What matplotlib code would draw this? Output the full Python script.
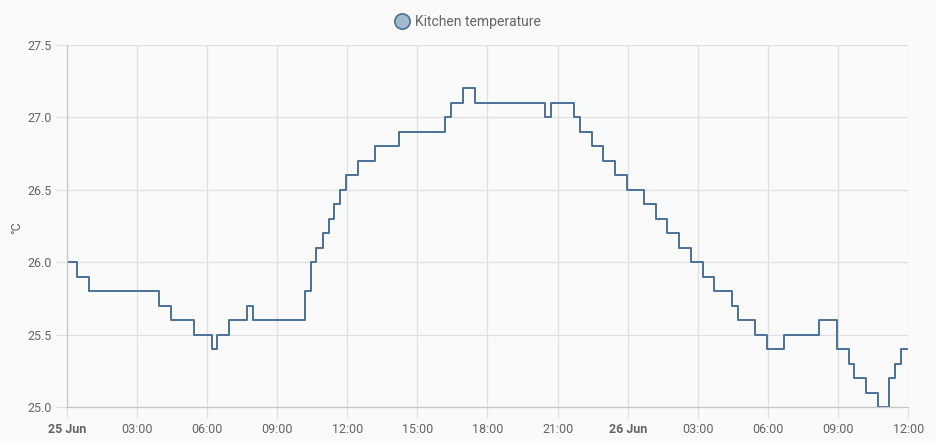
import matplotlib
matplotlib.use("Agg")
import matplotlib.pyplot as plt
import matplotlib.dates as mdates
from matplotlib.lines import Line2D
import pandas as pd

plt.rcParams['font.family'] = ['Roboto', 'DejaVu Sans']

series_name = "Kitchen temperature"
unit = "°C"
times = [
    "2024-06-25 00:00", "2024-06-25 00:27", "2024-06-25 00:57", "2024-06-25 03:57",
    "2024-06-25 04:27", "2024-06-25 05:27", "2024-06-25 06:12", "2024-06-25 06:27",
    "2024-06-25 06:56", "2024-06-25 07:42", "2024-06-25 07:57", "2024-06-25 10:12",
    "2024-06-25 10:27", "2024-06-25 10:41", "2024-06-25 10:57", "2024-06-25 11:12",
    "2024-06-25 11:27", "2024-06-25 11:42", "2024-06-25 11:57", "2024-06-25 12:27",
    "2024-06-25 13:12", "2024-06-25 14:12", "2024-06-25 16:11", "2024-06-25 16:27",
    "2024-06-25 16:57", "2024-06-25 17:27", "2024-06-25 20:28", "2024-06-25 20:42",
    "2024-06-25 21:42", "2024-06-25 21:57", "2024-06-25 22:27", "2024-06-25 22:57",
    "2024-06-25 23:27", "2024-06-25 23:57", "2024-06-26 00:41", "2024-06-26 01:12",
    "2024-06-26 01:41", "2024-06-26 02:11", "2024-06-26 02:42", "2024-06-26 03:12",
    "2024-06-26 03:42", "2024-06-26 04:27", "2024-06-26 04:42", "2024-06-26 05:27",
    "2024-06-26 05:57", "2024-06-26 06:42", "2024-06-26 08:12", "2024-06-26 08:57",
    "2024-06-26 09:27", "2024-06-26 09:41", "2024-06-26 10:11", "2024-06-26 10:42",
    "2024-06-26 11:11", "2024-06-26 11:27", "2024-06-26 11:42", "2024-06-26 12:00",
]
values = [
    26.0, 25.9, 25.8, 25.7, 25.6, 25.5, 25.4, 25.5,
    25.6, 25.7, 25.6, 25.8, 26.0, 26.1, 26.2, 26.3,
    26.4, 26.5, 26.6, 26.7, 26.8, 26.9, 27.0, 27.1,
    27.2, 27.1, 27.0, 27.1, 27.0, 26.9, 26.8, 26.7,
    26.6, 26.5, 26.4, 26.3, 26.2, 26.1, 26.0, 25.9,
    25.8, 25.7, 25.6, 25.5, 25.4, 25.5, 25.6, 25.4,
    25.3, 25.2, 25.1, 25.0, 25.2, 25.3, 25.4, 25.4,
]
x_start = "2024-06-25 00:00"
x_end = "2024-06-26 12:00"
y_ticks = [25.0, 25.5, 26.0, 26.5, 27.0, 27.5]

line_color = "#4a7197"
bg = "#fafafa"
text_color = "#646464"
grid_color = "#e0e0e0"
axis_color = "#c8c8c8"

W, H = 936, 441
fig = plt.figure(figsize=(W / 100, H / 100), dpi=100, facecolor=bg)
left, right, top, bottom = 66.7, 908.3, 45, 407.3
ax = fig.add_axes([left / W, 1 - bottom / H, (right - left) / W, (bottom - top) / H])
ax.set_facecolor(bg)

t = pd.to_datetime(times)
ax.plot(t, values, drawstyle="steps-post", color=line_color, lw=1.4)

ax.set_xlim(pd.Timestamp(x_start), pd.Timestamp(x_end))
ax.set_ylim(y_ticks[0], y_ticks[-1])
ax.set_yticks(y_ticks)
ax.set_yticklabels([f"{v:.1f}" for v in y_ticks])

ax.xaxis.set_major_locator(mdates.HourLocator(byhour=[0, 3, 6, 9, 12, 15, 18, 21]))
def fmt(x, pos=None):
    d = mdates.num2date(x)
    if d.hour == 0 and d.minute == 0:
        return d.strftime("%-d %b")
    return d.strftime("%H:%M")
ax.xaxis.set_major_formatter(plt.FuncFormatter(fmt))

ax.grid(True, color=grid_color, lw=0.9)
ax.set_axisbelow(True)
for s in ["top", "right"]:
    ax.spines[s].set_visible(False)
for s in ["left", "bottom"]:
    ax.spines[s].set_color(axis_color)
    ax.spines[s].set_linewidth(0.9)
ax.tick_params(axis="both", colors=grid_color, length=8, width=0.9,
               labelcolor=text_color, labelsize=9)
ax.tick_params(axis="x", pad=3)
ax.tick_params(axis="y", pad=3)

fig.canvas.draw()
for lbl in ax.get_xticklabels():
    if "Jun" in lbl.get_text():
        lbl.set_fontweight("bold")

fig.text(17 / W, 1 - 228 / H, unit, rotation=90, ha="center", va="center",
         color=text_color, fontsize=9)

handle = Line2D([], [], marker="o", linestyle="none", markersize=11,
                markerfacecolor="#a2b9ce", markeredgecolor=line_color, markeredgewidth=1.2)
fig.legend([handle], [series_name], loc="center", bbox_to_anchor=(468 / W, 1 - 22 / H),
           frameon=False, fontsize=10, labelcolor=text_color, handletextpad=0.5,
           handlelength=1.0)

fig.savefig("out.png", dpi=100, facecolor=bg)
